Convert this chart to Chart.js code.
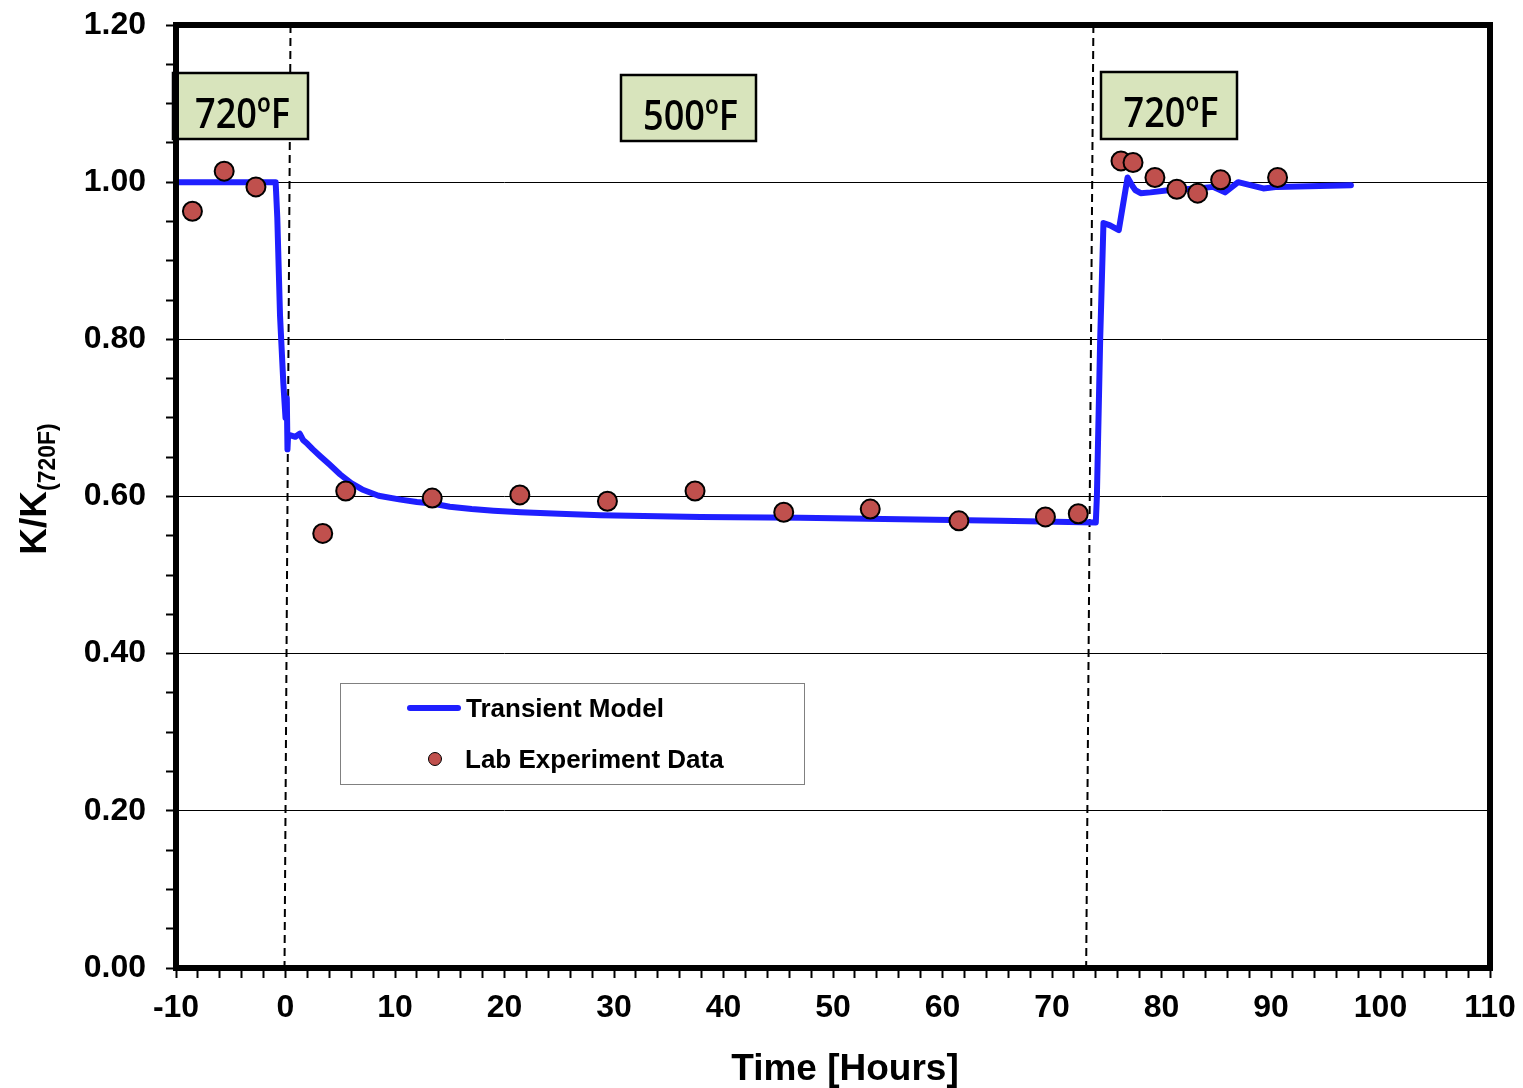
<!DOCTYPE html>
<html>
<head>
<meta charset="utf-8">
<script src="https://cdn.jsdelivr.net/npm/chart.js@4.4.1/dist/chart.umd.min.js"></script>
<style>
  html, body { margin: 0; padding: 0; background: #fff; }
  canvas { display: block; }
</style>
</head>
<body>
<canvas id="c" width="1523" height="1088"></canvas>
<script>
// ---- Data ----
const labX = [-8.5, -5.6, -2.7, 3.4, 5.5, 13.4, 21.4, 29.4, 37.4, 45.5, 53.4, 61.5, 69.4, 72.4, 76.3, 77.4, 79.4, 81.4, 83.3, 85.4, 90.6];
const labY = [0.963, 1.014, 0.994, 0.553, 0.607, 0.598, 0.602, 0.594, 0.607, 0.580, 0.584, 0.569, 0.574, 0.578, 1.027, 1.025, 1.006, 0.991, 0.986, 1.003, 1.006];

const modelX = [-10, -0.9, -0.75, -0.5, -0.2, 0.0, 0.12, 0.18, 0.24, 0.4, 0.9, 1.3, 1.6, 2.0, 2.5, 3.2, 4.0, 5.0, 6.0, 7.0, 8.5, 10.5, 12.0, 13.4, 15.0, 17.0, 19.0, 21.5, 25.0, 28.8, 37.9, 47.0, 56.2, 65.3, 74.0, 74.1, 74.4, 74.7, 75.3, 76.1, 76.9, 77.4, 77.6, 78.1, 79.0, 80.8, 83.3, 84.7, 85.8, 87.0, 89.3, 90.6, 97.3];
const modelY = [1.0, 1.0, 0.955, 0.83, 0.745, 0.70, 0.725, 0.66, 0.678, 0.678, 0.676, 0.68, 0.672, 0.667, 0.660, 0.651, 0.641, 0.628, 0.617, 0.609, 0.601, 0.596, 0.593, 0.591, 0.587, 0.584, 0.582, 0.580, 0.578, 0.576, 0.574, 0.573, 0.571, 0.569, 0.567, 0.60, 0.80, 0.948, 0.945, 0.939, 1.006, 0.994, 0.990, 0.986, 0.987, 0.990, 0.992, 0.994, 0.987, 1.0, 0.992, 0.994, 0.996];

const switch1X = [0.46, -0.09];
const switch2X = [73.78, 73.12];
const switchY = [1.2, 0.0];

const zoneLabels = ['720ºF', '500ºF', '720ºF'];
const seriesNames = ['Transient Model', 'Lab Experiment Data'];
const xTitle = 'Time [Hours]';
const yTitleMain = 'K/K';
const yTitleSub = '(720F)';

// ---- Layout / styles ----
const zoneBoxLayout = [[173, 73, 135, 66], [621, 75, 135, 66], [1101, 72, 136, 67]];
const BLUE = '#1f1fff';
const DOT = '#c0504d';
const TICKFONT = "'Liberation Sans', Arial, sans-serif";

const pts = (xs, ys) => xs.map((v, i) => ({ x: v, y: ys[i] }));
const isMult = (v, m) => Math.abs(v / m - Math.round(v / m)) < 1e-6;
const noPad = (s) => { s.paddingTop = 0; s.paddingBottom = 0; s.paddingLeft = 0; s.paddingRight = 0; };

const decor = {
  id: 'decor',
  beforeDraw(chart) {
    const ctx = chart.ctx;
    ctx.save();
    ctx.fillStyle = '#fff';
    ctx.fillRect(0, 0, chart.width, chart.height);
    ctx.restore();
  },
  afterDatasetsDraw(chart) {
    const { ctx, chartArea: a } = chart;
    ctx.save();
    // zone label boxes
    zoneBoxLayout.forEach((r, i) => {
      ctx.fillStyle = '#d8e4bc';
      ctx.fillRect(r[0], r[1], r[2], r[3]);
      ctx.lineWidth = 2.5;
      ctx.strokeStyle = '#000';
      ctx.strokeRect(r[0], r[1], r[2], r[3]);
      ctx.fillStyle = '#000';
      ctx.font = "600 42px 'Open Sans', sans-serif";
      ctx.textAlign = 'center';
      ctx.textBaseline = 'alphabetic';
      ctx.fillText(zoneLabels[i], r[0] + r[2] / 2 + 2, r[1] + 55, 95);
    });
    // legend
    ctx.fillStyle = '#fff';
    ctx.fillRect(340, 683, 464, 101);
    ctx.lineWidth = 1;
    ctx.strokeStyle = '#808080';
    ctx.strokeRect(340.5, 683.5, 464, 101);
    ctx.strokeStyle = BLUE;
    ctx.lineWidth = 6;
    ctx.lineCap = 'round';
    ctx.beginPath();
    ctx.moveTo(410, 708);
    ctx.lineTo(458, 708);
    ctx.stroke();
    ctx.beginPath();
    ctx.arc(435, 759, 6.5, 0, Math.PI * 2);
    ctx.fillStyle = DOT;
    ctx.fill();
    ctx.lineWidth = 1;
    ctx.strokeStyle = '#000';
    ctx.stroke();
    ctx.fillStyle = '#000';
    ctx.font = "bold 26px " + TICKFONT;
    ctx.textAlign = 'left';
    ctx.textBaseline = 'alphabetic';
    ctx.fillText(seriesNames[0], 466, 717);
    ctx.fillText(seriesNames[1], 465, 768);
    // frame
    ctx.lineWidth = 6;
    ctx.lineCap = 'butt';
    ctx.strokeStyle = '#000';
    ctx.strokeRect(a.left, a.top, a.right - a.left, a.bottom - a.top);
    // x title
    ctx.font = "bold 37px " + TICKFONT;
    ctx.textAlign = 'center';
    ctx.fillText(xTitle, 845, 1080);
    // y title
    ctx.translate(46, 489);
    ctx.rotate(-Math.PI / 2);
    ctx.font = "bold 37px " + TICKFONT;
    const w1 = ctx.measureText(yTitleMain).width;
    ctx.font = "bold 23px " + TICKFONT;
    const w2 = ctx.measureText(yTitleSub).width;
    const start = -(w1 + w2) / 2;
    ctx.textAlign = 'left';
    ctx.font = "bold 37px " + TICKFONT;
    ctx.fillText(yTitleMain, start, 0);
    ctx.font = "bold 23px " + TICKFONT;
    ctx.fillText(yTitleSub, start + w1, 9);
    ctx.restore();
  }
};

new Chart(document.getElementById('c'), {
  type: 'scatter',
  data: {
    datasets: [
      {
        label: seriesNames[1],
        data: pts(labX, labY),
        backgroundColor: DOT,
        borderColor: '#000',
        borderWidth: 2,
        pointRadius: 9.5,
        order: 0
      },
      {
        label: seriesNames[0],
        data: pts(modelX, modelY),
        showLine: true,
        borderColor: BLUE,
        borderWidth: 6,
        pointRadius: 0,
        tension: 0,
        borderJoinStyle: 'round',
        borderCapStyle: 'round',
        order: 1
      },
      {
        label: 'switch1',
        data: pts(switch1X, switchY),
        showLine: true,
        borderColor: '#000',
        borderWidth: 2,
        borderDash: [8, 5],
        pointRadius: 0,
        order: 2
      },
      {
        label: 'switch2',
        data: pts(switch2X, switchY),
        showLine: true,
        borderColor: '#000',
        borderWidth: 2,
        borderDash: [8, 5],
        pointRadius: 0,
        order: 2
      }
    ]
  },
  options: {
    responsive: false,
    animation: false,
    events: [],
    layout: { padding: { left: 0, top: 25, right: 33, bottom: 0 } },
    plugins: { legend: { display: false }, tooltip: { enabled: false } },
    scales: {
      x: {
        type: 'linear',
        min: -10, max: 110,
        border: { display: false },
        grid: { drawOnChartArea: false, drawTicks: true, tickLength: 10, tickColor: '#000', tickWidth: 2 },
        ticks: {
          stepSize: 2,
          autoSkip: false,
          maxRotation: 0,
          padding: 11,
          color: '#000',
          font: { family: TICKFONT, size: 32, weight: 'bold' },
          callback: (v) => isMult(v, 10) ? String(Math.round(v)) : ''
        },
        afterFit: (s) => { s.height = 120; noPad(s); }
      },
      y: {
        type: 'linear',
        min: 0, max: 1.2,
        border: { display: false },
        grid: {
          drawTicks: true,
          tickLength: 10,
          tickWidth: 2,
          tickColor: '#000',
          lineWidth: 1,
          color: (c) => (c.tick && isMult(c.tick.value, 0.2)) ? '#000' : 'rgba(0,0,0,0)'
        },
        ticks: {
          stepSize: 0.05,
          autoSkip: false,
          padding: 20,
          color: '#000',
          font: { family: TICKFONT, size: 32, weight: 'bold' },
          callback: (v) => isMult(v, 0.2) ? v.toFixed(2) : ''
        },
        afterFit: (s) => { s.width = 176; noPad(s); }
      }
    }
  },
  plugins: [decor]
});
</script>
</body>
</html>
